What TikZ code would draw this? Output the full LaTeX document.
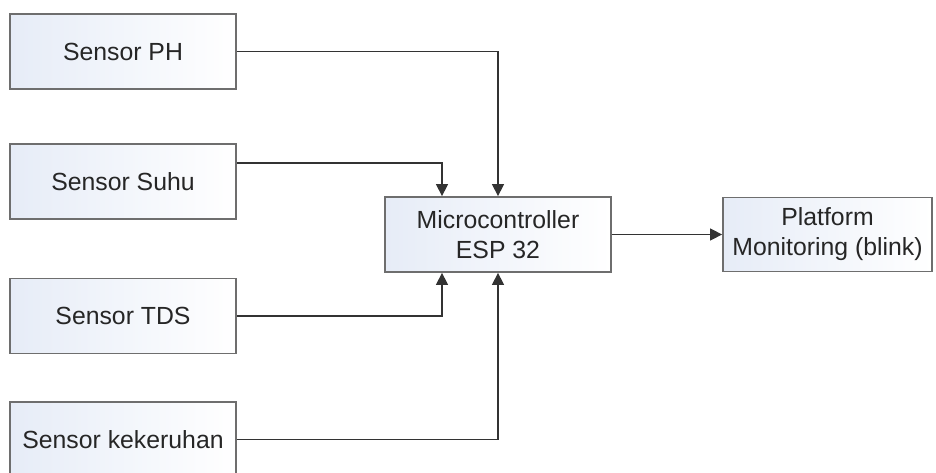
\documentclass[tikz,border=0pt]{standalone}
\usepackage{fontspec}
\setmainfont{Liberation Sans}
\usetikzlibrary{arrows.meta}
\definecolor{boxline}{HTML}{6E6E6E}
\definecolor{wireline}{HTML}{333333}
\definecolor{boxfill}{HTML}{E6ECF7}
\definecolor{txt}{HTML}{262626}
\begin{document}
\begin{tikzpicture}[x=1pt,y=-1pt,
  blockbox/.style={draw=boxline, line width=1.8pt, left color=boxfill, right color=white,
    minimum width=226pt, minimum height=75pt, inner sep=0pt, align=center,
    text=txt, font=\fontsize{24.8}{30}\selectfont},
  wire/.style={draw=wireline, line width=1.4pt, -{Triangle[length=12pt,width=12pt]}}]
\path[use as bounding box] (0,0) rectangle (936,473);
\node[blockbox] (ph) at (123,51.5) {Sensor PH};
\node[blockbox] (suhu) at (123,181.5) {Sensor Suhu};
\node[blockbox] (tds) at (123,316) {Sensor TDS};
\node[blockbox] (kek) at (123,439.5) {Sensor kekeruhan};
\node[blockbox] (micro) at (498,234.5) {Microcontroller\\ESP 32};
\node[blockbox, minimum width=209pt, minimum height=74pt] (plat) at (827.5,234.5) {Platform\\Monitoring (blink)};
\draw[wire] (ph.east) -| (micro.north);
\draw[wire] ([yshift=18.5pt]suhu.east) -| ([xshift=-56pt]micro.north);
\draw[wire] (tds.east) -| ([xshift=-56pt]micro.south);
\draw[wire] (kek.east) -| (micro.south);
\draw[wire] (micro.east) -- (plat.west);
\end{tikzpicture}
\end{document}
